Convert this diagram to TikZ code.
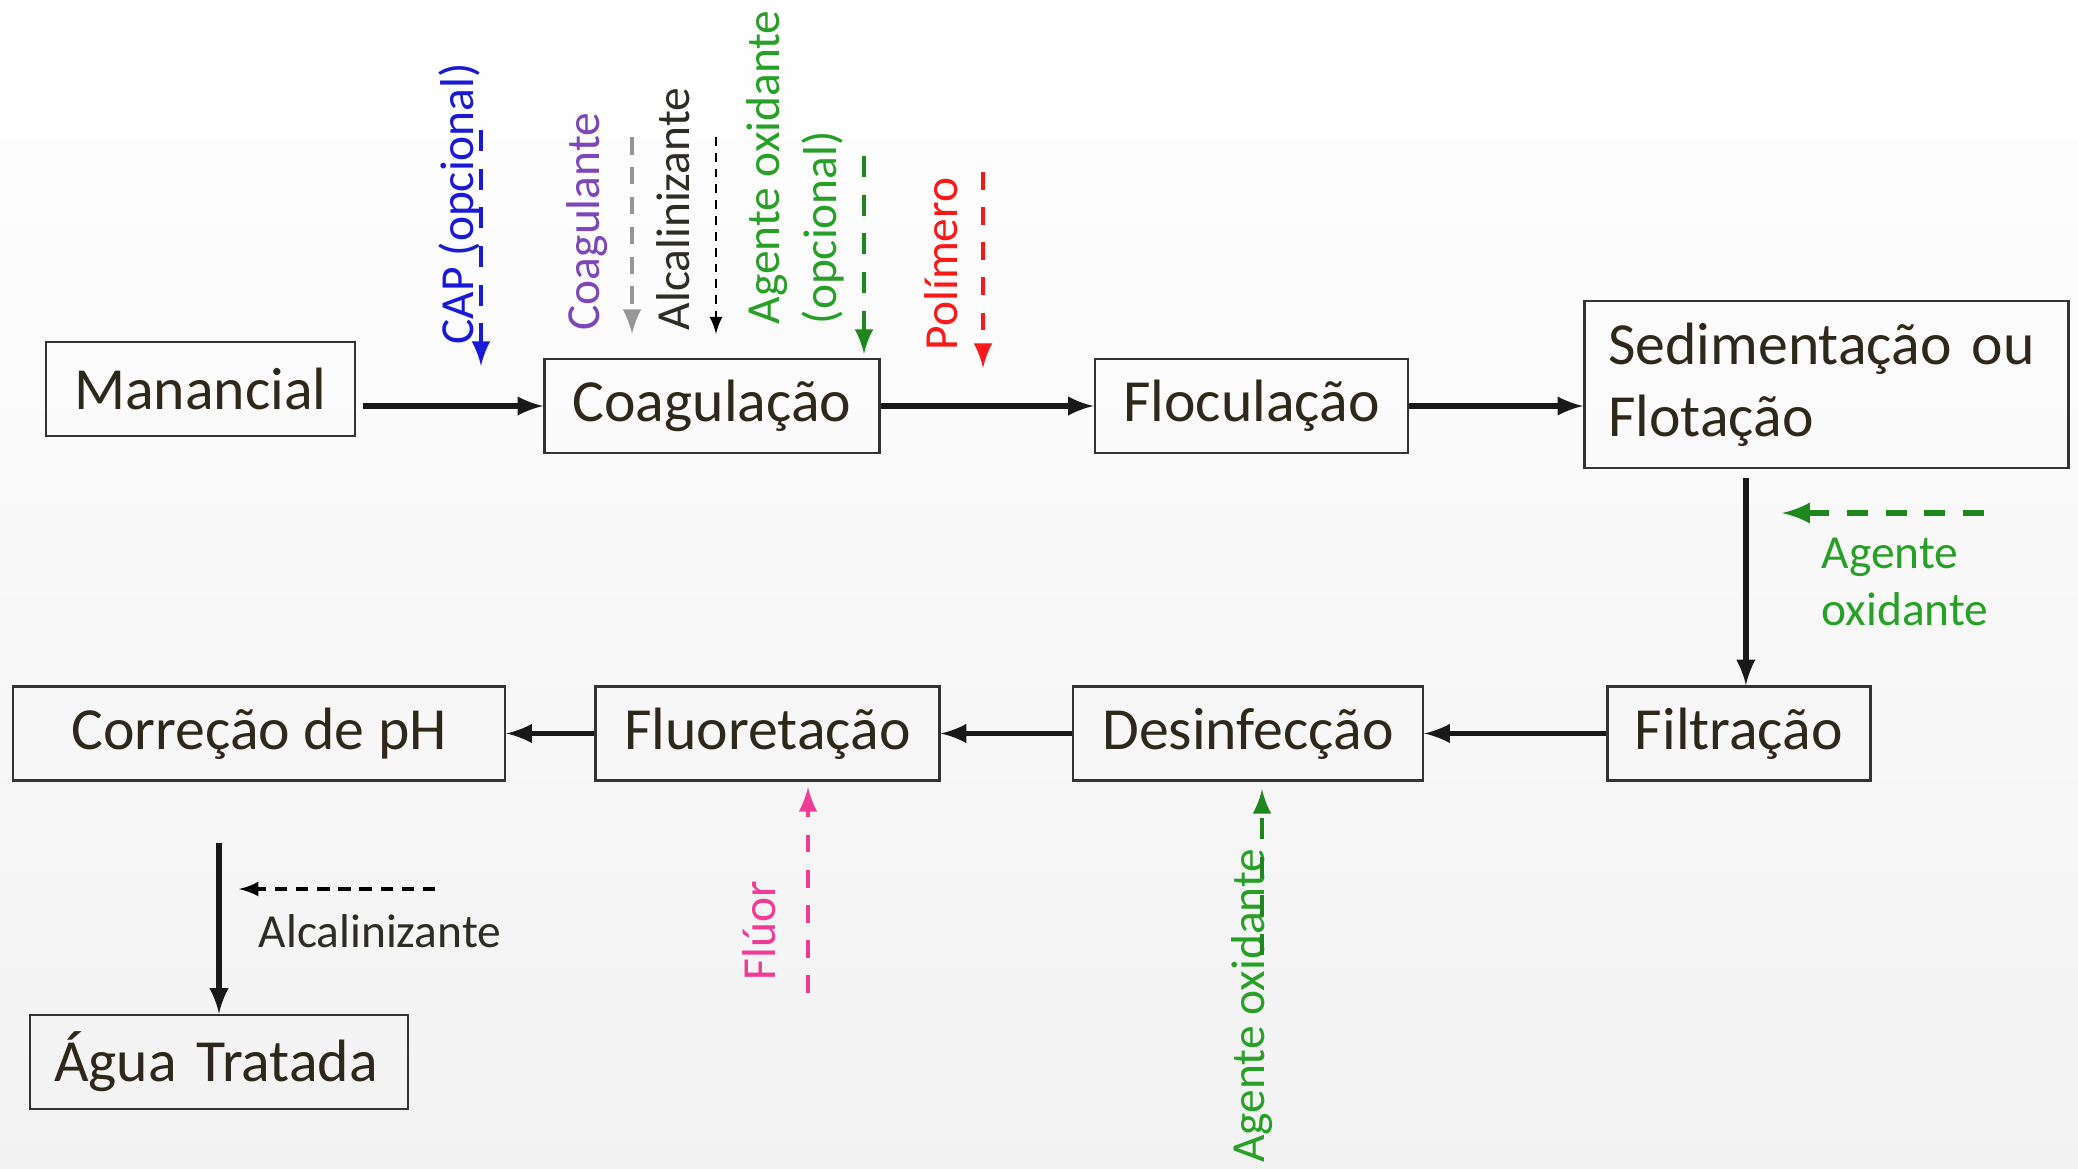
\documentclass[tikz,border=0pt]{standalone}
\usepackage{fontspec}
\setmainfont{Carlito}
\usepackage{tikz}
\usetikzlibrary{positioning,shapes,arrows}
\usepackage{xcolor}
\definecolor{boxtext}{RGB}{45,40,25}
\definecolor{capblue}{RGB}{25,25,215}
\definecolor{coagpurple}{RGB}{125,70,185}
\definecolor{coaggray}{RGB}{150,150,150}
\definecolor{oxitext}{RGB}{40,160,40}
\definecolor{oxiarrow}{RGB}{30,135,30}
\definecolor{polred}{RGB}{250,25,25}
\definecolor{flupink}{RGB}{240,60,150}
\definecolor{alcdark}{RGB}{45,45,35}

\begin{document}
\begin{tikzpicture}[
  node distance=1cm and 1cm,
  mybox/.style={draw=black!80,line width=0.7pt,rectangle,align=center,minimum height=0.94cm,inner xsep=0.24cm,inner ysep=0pt,text=boxtext,font=\fontsize{17}{20.5}\selectfont},
  mylabel/.style={inner sep=0pt,font=\fontsize{13.5}{16.2}\selectfont},
  vlabel/.style={mylabel,rotate=90,anchor=west,align=left},
  flow/.style={-{latex[scale=1.15]},line width=1.5pt,black!90},
  dose/.style={-{latex[scale=1.2]},line width=1.4pt}
]
\fill[top color=white,bottom color=black!5] (0,0) rectangle (20.78,-11.68);
\useasboundingbox (0,0) rectangle (20.78,-11.68);

\node[mybox,minimum width=3.09cm] (man) at (2.005,-3.89) {Manancial};
\node[mybox,minimum width=3.35cm,right=1.87cm of man,yshift=-0.17cm] (coag) {Coagulação};
\node[mybox,minimum width=3.13cm,right=2.13cm of coag] (floc) {Floculação};
\node[mybox,align=left,text width=4.36cm,minimum height=1.67cm,right=1.74cm of floc,yshift=0.215cm] (sed) {Sedimentação ou\\Flotação};
\node[mybox,minimum width=2.63cm,below=2.16cm of sed,xshift=-0.875cm] (filt) {Filtração};
\node[mybox,minimum width=3.50cm,left=1.82cm of filt] (desinf) {Desinfecção};
\node[mybox,minimum width=3.44cm,left=1.31cm of desinf] (fluor) {Fluoretação};
\node[mybox,minimum width=4.92cm,left=0.88cm of fluor] (corr) {Correção de pH};
\node[mybox,align=left,text width=3.30cm,below=2.32cm of corr,xshift=-0.40cm] (agua) {Água Tratada};

\path ([xshift=0.07cm]man.east |- coag.west) edge[flow] (coag.west)
(coag.east) edge[flow] (floc.west)
(floc.east) edge[flow] (floc.east -| sed.west)
([xshift=0.07cm,yshift=-0.09cm]sed.south -| filt.north) edge[flow] ([xshift=0.07cm]filt.north)
(filt.west) edge[flow] (desinf.east)
(desinf.west) edge[flow] (fluor.east)
(fluor.west) edge[flow] (corr.east)
([yshift=-0.61cm]corr.south -| agua.north) edge[flow] (agua.north);

\node[vlabel,text=capblue] (lcap) at (4.60,-3.45) {CAP (opcional)};
\node[vlabel,text=coagpurple] (lcoag) at (5.87,-3.31) {Coagulante};
\node[vlabel,text=alcdark] (lalc) at (6.73,-3.31) {Alcalinizante};
\node[vlabel,text=oxitext] (loxi) at (7.95,-3.25) {Agente oxidante\\(opcional)};
\node[vlabel,text=polred] (lpol) at (9.41,-3.51) {Polímero};
\node[mylabel,text=oxitext,align=left,anchor=base west] (loxi2) at (18.21,-6.25) {Agente\\oxidante};
\node[vlabel,text=flupink] (lflu) at (7.59,-9.81) {Flúor};
\node[vlabel,text=oxitext,anchor=east] (loxi3) at (12.52,-8.48) {Agente oxidante};
\node[mylabel,text=alcdark,anchor=base west] (lalc2) at (2.58,-9.47) {Alcalinizante};

\coordinate (cap0) at (4.81,-1.30);
\coordinate (cap1) at (4.81,-3.66);
\coordinate (coag0) at (6.32,-1.37);
\coordinate (coag1) at (6.32,-3.34);
\coordinate (alc0) at (7.16,-1.37);
\coordinate (alc1) at (7.16,-3.34);
\coordinate (oxi0) at (8.64,-1.56);
\coordinate (oxi1) at (8.64,-3.54);
\coordinate (pol0) at (9.83,-1.72);
\coordinate (pol1) at (9.83,-3.68);
\coordinate (oxr0) at (19.84,-5.13);
\coordinate (oxr1) at (17.82,-5.13);
\coordinate (flu0) at (8.08,-9.93);
\coordinate (flu1) at (8.08,-7.87);
\coordinate (oxb0) at (12.62,-9.55);
\coordinate (oxb1) at (12.62,-7.89);
\coordinate (alk0) at (4.35,-8.89);
\coordinate (alk1) at (2.39,-8.89);

\path (cap0) edge[dose,capblue,dash pattern=on 6pt off 5pt] (cap1)
(coag0) edge[dose,coaggray,dash pattern=on 5pt off 3.5pt] (coag1)
(alc0) edge[-{latex[scale=1.3]},line width=0.7pt,black,dash pattern=on 2.5pt off 2pt] (alc1)
(oxi0) edge[dose,oxiarrow,dash pattern=on 6pt off 5pt] (oxi1)
(pol0) edge[dose,polred,dash pattern=on 5pt off 5pt] (pol1)
(oxr0) edge[dose,oxiarrow,line width=1.7pt,dash pattern=on 6pt off 5pt] (oxr1)
(flu0) edge[dose,flupink,dash pattern=on 5pt off 5pt] (flu1)
(oxb0) edge[dose,oxiarrow,dash pattern=on 6pt off 5pt] (oxb1)
(alk0) edge[-{latex[scale=1.3]},line width=0.9pt,black,dash pattern=on 3.5pt off 2.5pt] (alk1);
\end{tikzpicture}
\end{document}
